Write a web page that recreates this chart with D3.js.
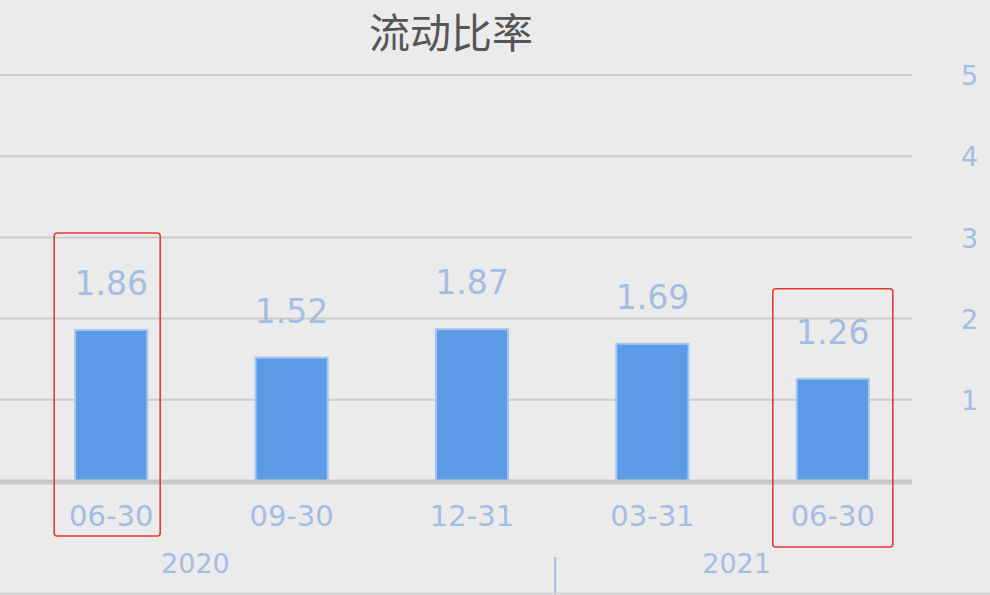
<!DOCTYPE html>
<html>
<head>
<meta charset="utf-8">
<script src="https://cdn.jsdelivr.net/npm/d3@7"></script>
<style>
  html, body { margin: 0; padding: 0; background: #ebebeb; }
  svg { display: block; }
</style>
</head>
<body>
<div id="graf"></div>
<script>
// data
const periods = ['06-30', '09-30', '12-31', '03-31', '06-30']
const years = ['2020', '2020', '2020', '2021', '2021']
const ratios = [1.86, 1.52, 1.87, 1.69, 1.26]
const yTicks = [1, 2, 3, 4, 5]
const highlighted = [0, 4]

// red annotation boxes: offsets around the highlighted bar (pixels)
const boxPad = [
  { left: 57, right: 49, top: 97, bottom: 536 },
  { left: 60, right: 60, top: 90, bottom: 547 },
]

const anchoTotal = 990
const altoTotal = 595

const svg = d3.select('#graf')
  .append('svg')
  .attr('width', anchoTotal)
  .attr('height', altoTotal)

svg.append('rect')
  .attr('width', anchoTotal)
  .attr('height', altoTotal)
  .attr('fill', '#ebebeb')

const labelColor = '#a4bde3'
const numFont = '"DejaVu Sans", sans-serif'

const x = d3.scaleBand()
  .domain(periods.map((d, i) => i))
  .range([21, 923])
  .paddingInner(0.6)
  .paddingOuter(0.3)

const y = d3.scaleLinear()
  .domain([0, 5])
  .range([481, 75])

const center = i => x(i) + x.bandwidth() / 2

// gridlines
svg.append('g')
  .selectAll('line')
  .data(yTicks)
  .enter()
  .append('line')
  .attr('x1', 0)
  .attr('x2', 912)
  .attr('y1', d => y(d))
  .attr('y2', d => y(d))
  .attr('stroke', '#cbcbcb')
  .attr('stroke-width', 2)

// right axis labels
const yAxis = svg.append('g')
  .attr('transform', 'translate(961, 0)')
  .call(d3.axisRight(y).tickValues(yTicks).tickSize(0).tickFormat(d3.format('d')))
yAxis.select('.domain').remove()
yAxis.selectAll('text')
  .attr('x', 0)
  .attr('dy', '0.36em')
  .attr('fill', labelColor)
  .attr('font-family', numFont)
  .attr('font-size', 27)

// bars
svg.append('g')
  .selectAll('rect')
  .data(ratios)
  .enter()
  .append('rect')
  .attr('x', (d, i) => x(i))
  .attr('y', d => y(d))
  .attr('width', x.bandwidth())
  .attr('height', d => y(0) - y(d))
  .attr('fill', '#5b9be7')
  .attr('stroke', '#a9c6ef')
  .attr('stroke-width', 2)

// baseline
svg.append('line')
  .attr('x1', 0)
  .attr('x2', 912)
  .attr('y1', y(0) + 1)
  .attr('y2', y(0) + 1)
  .attr('stroke', '#c8c8c8')
  .attr('stroke-width', 5)

// value labels
svg.append('g')
  .selectAll('text')
  .data(ratios)
  .enter()
  .append('text')
  .attr('x', (d, i) => center(i))
  .attr('y', d => y(d) - 35)
  .attr('text-anchor', 'middle')
  .attr('font-family', numFont)
  .attr('font-size', 33)
  .attr('fill', labelColor)
  .text(d => d.toFixed(2))

// period labels
const xAxis = svg.append('g')
  .attr('transform', `translate(0, ${y(0)})`)
  .call(d3.axisBottom(x).tickSize(0).tickFormat(i => periods[i]))
xAxis.select('.domain').remove()
xAxis.selectAll('text')
  .attr('y', 45)
  .attr('dy', 0)
  .attr('fill', labelColor)
  .attr('font-family', numFont)
  .attr('font-size', 29)

// year labels, placed between the first two periods of each year
const yearList = Array.from(new Set(years))
svg.append('g')
  .selectAll('text')
  .data(yearList)
  .enter()
  .append('text')
  .attr('x', yr => {
    const idx = years.map((d, i) => d === yr ? i : -1).filter(i => i >= 0)
    const a = center(idx[0])
    const b = idx.length > 1 ? center(idx[1]) : a
    return (a + b) / 2 - 6
  })
  .attr('y', 573)
  .attr('text-anchor', 'middle')
  .attr('font-family', numFont)
  .attr('font-size', 27)
  .attr('fill', labelColor)
  .text(d => d)

// year separator
const firstOf2021 = years.indexOf('2021')
const sepX = (center(firstOf2021 - 1) + center(firstOf2021)) / 2 - 7
svg.append('line')
  .attr('x1', sepX)
  .attr('x2', sepX)
  .attr('y1', 557)
  .attr('y2', 595)
  .attr('stroke', '#a4bde3')
  .attr('stroke-width', 2)

// bottom line
svg.append('line')
  .attr('x1', 0)
  .attr('x2', anchoTotal)
  .attr('y1', 593.5)
  .attr('y2', 593.5)
  .attr('stroke', '#d2d2d2')
  .attr('stroke-width', 2)

// highlight boxes
svg.append('g')
  .selectAll('rect')
  .data(highlighted)
  .enter()
  .append('rect')
  .attr('x', (i, k) => center(i) - boxPad[k].left)
  .attr('y', (i, k) => y(ratios[i]) - boxPad[k].top)
  .attr('width', (i, k) => boxPad[k].left + boxPad[k].right)
  .attr('height', (i, k) => boxPad[k].bottom - (y(ratios[i]) - boxPad[k].top))
  .attr('rx', 3)
  .attr('fill', 'none')
  .attr('stroke', '#e63b35')
  .attr('stroke-width', 1.6)

// title
svg.append('text')
  .attr('x', 451)
  .attr('y', 48)
  .attr('text-anchor', 'middle')
  .attr('font-family', '"Noto Sans CJK SC", sans-serif')
  .attr('font-size', 41)
  .attr('fill', '#555555')
  .text('流动比率')
</script>
</body>
</html>
